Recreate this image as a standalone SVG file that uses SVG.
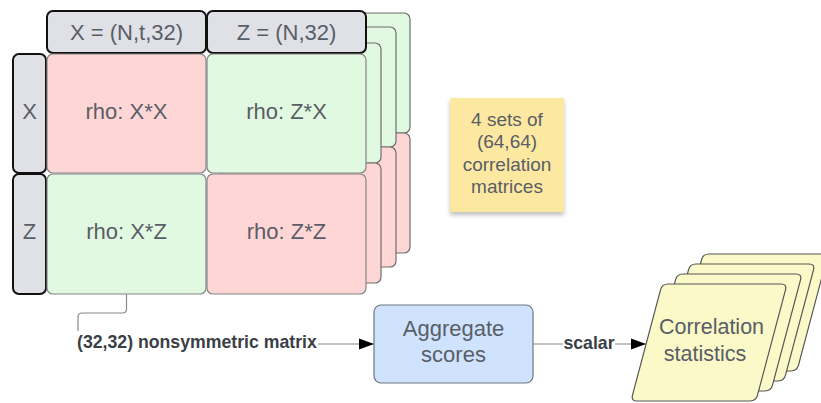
<svg xmlns="http://www.w3.org/2000/svg" width="821" height="403" viewBox="0 0 821 403">
<defs>
<style>
.t{font-family:"Liberation Sans",Arial,sans-serif;fill:#595e66;text-anchor:middle}
.n{font-size:22px}
.lbl{font-family:"Liberation Sans",Arial,sans-serif;font-weight:bold;font-size:17.7px;fill:#3a3f47}
.hdr{fill:#dfe1e6;stroke:#111;stroke-width:2}
.red{fill:#ffd6d6;stroke:#858585;stroke-width:1.2}
.grn{fill:#e1f9e1;stroke:#858585;stroke-width:1.2}
.ly .red,.ly .grn{stroke:#6e6e6e}
.conn{fill:none;stroke:#8a8a8a;stroke-width:1.2}
.par{fill:#fbf9c8;stroke:#555;stroke-width:1.2}
</style>
<marker id="arr" markerWidth="16" markerHeight="12" refX="15" refY="6" orient="auto" markerUnits="userSpaceOnUse">
<path d="M0,0.5 L15,6 L0,11.5 Z" fill="#000"/>
</marker>
<filter id="sh" x="-10%" y="-10%" width="120%" height="125%">
<feDropShadow dx="0" dy="3" stdDeviation="2" flood-color="#000" flood-opacity="0.25"/>
</filter>
<path id="pg" d="M668,284 L781,284 Q787,284 785.5,289.8 L757.5,395.2 Q756,401 750,401 L637,401 Q631,401 632.5,395.2 L660.5,289.8 Q662,284 668,284 Z"/>
</defs>

<g id="stack-layer-3" class="ly">
<rect class="grn" x="250" y="13" width="160" height="120" rx="6"/>
<rect class="red" x="250" y="133" width="160" height="120" rx="6"/>
</g>
<g id="stack-layer-2" class="ly">
<rect class="grn" x="236" y="27" width="160" height="120" rx="6"/>
<rect class="red" x="236" y="147" width="160" height="120" rx="6"/>
</g>
<g id="stack-layer-1" class="ly">
<rect class="grn" x="221" y="43" width="160" height="120" rx="6"/>
<rect class="red" x="221" y="163" width="160" height="120" rx="6"/>
</g>

<g id="header-x">
<rect class="hdr" x="47" y="11" width="159" height="42" rx="6"/>
<text class="t n" x="126.5" y="40">X = (N,t,32)</text>
</g>
<g id="header-z">
<rect class="hdr" x="207" y="11" width="159" height="42" rx="6"/>
<text class="t n" x="286.5" y="40">Z = (N,32)</text>
</g>
<g id="row-x">
<rect class="hdr" x="13" y="54" width="33" height="119" rx="6"/>
<text class="t n" x="29.5" y="118.5">X</text>
</g>
<g id="row-z">
<rect class="hdr" x="13" y="174" width="33" height="120" rx="6"/>
<text class="t n" x="29.5" y="238.5">Z</text>
</g>
<g id="cell-xx">
<rect class="red" x="47" y="54" width="159" height="119" rx="6"/>
<text class="t n" x="126.5" y="118.5">rho: X*X</text>
</g>
<g id="cell-zx">
<rect class="grn" x="207" y="54" width="159" height="119" rx="6"/>
<text class="t n" x="286.5" y="118.5">rho: Z*X</text>
</g>
<g id="cell-xz">
<rect class="grn" x="47" y="174" width="159" height="120" rx="6"/>
<text class="t n" x="126.5" y="238.5">rho: X*Z</text>
</g>
<g id="cell-zz">
<rect class="red" x="207" y="174" width="159" height="120" rx="6"/>
<text class="t n" x="286.5" y="238.5">rho: Z*Z</text>
</g>

<g id="note">
<rect x="450" y="98" width="114" height="114" fill="#fde8a2" filter="url(#sh)"/>
<text class="t" font-size="19" x="507" y="125.5">4 sets of</text>
<text class="t" font-size="19" x="507" y="148">(64,64)</text>
<text class="t" font-size="19" x="507" y="170.5">correlation</text>
<text class="t" font-size="19" x="507" y="193">matrices</text>
</g>

<g id="connectors">
<path class="conn" d="M126.5,294 V309 Q126.5,313 122.5,313 H82 Q78,313 78,317 V344 H374" marker-end="url(#arr)"/>
<rect x="76" y="331" width="242" height="22" fill="#fff"/>
<text class="lbl" x="77" y="348">(32,32) nonsymmetric matrix</text>
<path class="conn" d="M533,344 H646" marker-end="url(#arr)"/>
<rect x="563" y="333" width="52" height="20" fill="#fff"/>
<text class="lbl" x="589" y="348.5" text-anchor="middle">scalar</text>
</g>

<g id="aggregate">
<rect x="374" y="305" width="159" height="78" rx="7" fill="#cfe3ff" stroke="#6f7780" stroke-width="1.2"/>
<text class="t n" x="453.5" y="336">Aggregate</text>
<text class="t n" x="453.5" y="362">scores</text>
</g>

<g id="correlation-statistics">
<use href="#pg" class="par" transform="translate(41,-30)"/>
<use href="#pg" class="par" transform="translate(28,-20)"/>
<use href="#pg" class="par" transform="translate(15,-10)"/>
<use href="#pg" class="par"/>
<text class="t" font-size="21.5" x="711.5" y="334">Correlation</text>
<text class="t" font-size="21.5" x="705" y="361">statistics</text>
</g>
</svg>
